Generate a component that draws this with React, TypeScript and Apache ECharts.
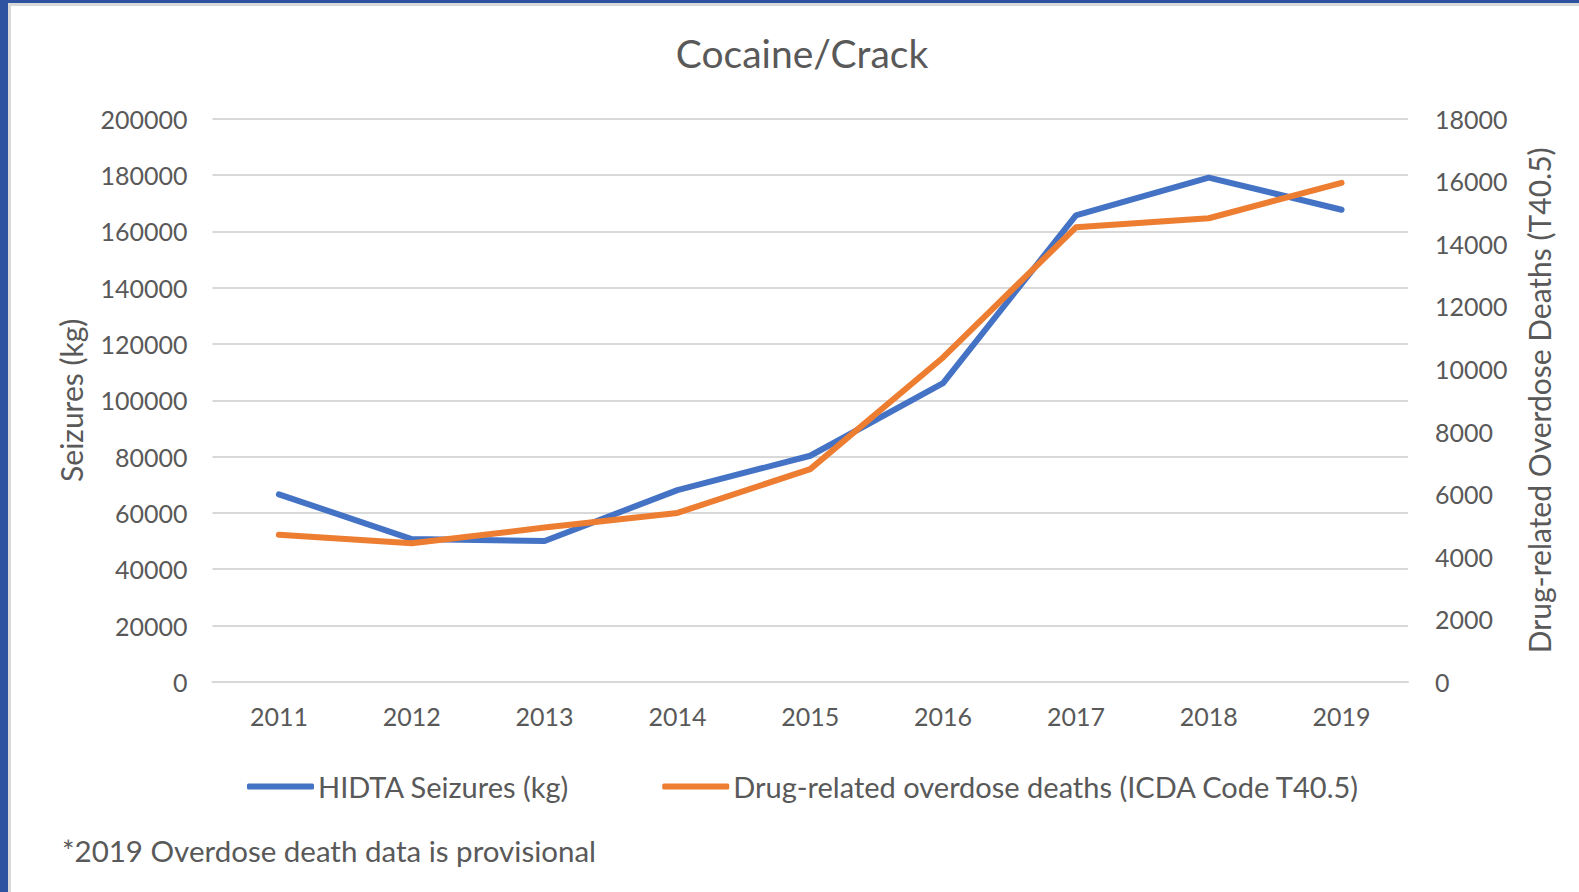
import React, { useEffect, useRef } from "react";
import * as echarts from "echarts";

const years = ["2011", "2012", "2013", "2014", "2015", "2016", "2017", "2018", "2019"];
const seizuresKg = [66600, 50700, 50000, 68100, 80300, 106100, 165700, 179100, 167700];
const overdoseDeaths = [4700, 4430, 4930, 5400, 6800, 10370, 14530, 14820, 15950];

const seriesNames = ["HIDTA Seizures (kg)", "Drug-related overdose deaths (ICDA Code T40.5)"];
const titleText = "Cocaine/Crack";
const leftAxisName = "Seizures (kg)";
const rightAxisName = "Drug-related Overdose Deaths (T40.5)";
const footnote = "*2019 Overdose death data is provisional";

const FONT = "Lato, 'Open Sans', sans-serif";
const GRAY = "#595959";
const GRID = "#d9d9d9";

export default function App() {
  const ref = useRef<HTMLDivElement>(null);
  useEffect(() => {
    document.body.style.margin = "0";
    const chart = echarts.init(ref.current!, undefined, { renderer: "svg" });
    const plain = (v: number) => String(v);
    chart.setOption({
      animation: false,
      backgroundColor: "#ffffff",
      textStyle: { fontFamily: FONT },
      title: {
        text: titleText,
        left: 802,
        top: 33,
        padding: 0,
        textAlign: "center",
        textStyle: { fontFamily: FONT, fontSize: 39, fontWeight: "normal", color: GRAY },
      },
      grid: { left: 212.5, right: 171, top: 118.8, bottom: 210.2, containLabel: false },
      legend: {
        left: 247,
        top: 772,
        itemGap: 93,
        itemWidth: 67,
        itemHeight: 6,
        icon: "roundRect",
        padding: 0,
        textStyle: { fontFamily: FONT, fontSize: 29, color: GRAY, padding: [0, 0, 0, -1] },
        data: seriesNames,
      },
      xAxis: {
        type: "category",
        data: years,
        boundaryGap: true,
        axisLine: { show: true, lineStyle: { color: GRID, width: 2 } },
        axisTick: { show: false },
        axisLabel: { fontFamily: FONT, fontSize: 25, color: GRAY, margin: 22 },
      },
      yAxis: [
        {
          type: "value",
          min: 0,
          max: 200000,
          interval: 20000,
          name: leftAxisName,
          nameLocation: "middle",
          nameGap: 127,
          nameTextStyle: { fontFamily: FONT, fontSize: 30, color: GRAY },
          axisLine: { show: false },
          axisTick: { show: false },
          axisLabel: { fontFamily: FONT, fontSize: 25, color: GRAY, margin: 25, formatter: plain },
          splitLine: { show: true, lineStyle: { color: GRID, width: 2 } },
        },
        {
          type: "value",
          min: 0,
          max: 18000,
          interval: 2000,
          position: "right",
          name: rightAxisName,
          nameLocation: "middle",
          nameGap: 116,
          nameTextStyle: { fontFamily: FONT, fontSize: 30, color: GRAY },
          axisLine: { show: false },
          axisTick: { show: false },
          axisLabel: { fontFamily: FONT, fontSize: 25, color: GRAY, margin: 27, formatter: plain },
          splitLine: { show: false },
        },
      ],
      series: [
        {
          name: seriesNames[0],
          type: "line",
          data: seizuresKg,
          yAxisIndex: 0,
          symbol: "none",
          color: "#4472C4",
          lineStyle: { width: 6, color: "#4472C4", cap: "round", join: "round" },
        },
        {
          name: seriesNames[1],
          type: "line",
          data: overdoseDeaths,
          yAxisIndex: 1,
          symbol: "none",
          color: "#ED7D31",
          lineStyle: { width: 6, color: "#ED7D31", cap: "round", join: "round" },
        },
      ],
      graphic: [
        { type: "rect", left: 0, top: 0, shape: { width: 1579, height: 3 }, style: { fill: "#2E54A1" }, z: 100 },
        { type: "rect", left: 0, top: 3, shape: { width: 1579, height: 3 }, style: { fill: GRID }, z: 99 },
        { type: "rect", left: 0, top: 0, shape: { width: 8, height: 892 }, style: { fill: "#2E54A1" }, z: 100 },
        { type: "rect", left: 8, top: 3, shape: { width: 3, height: 889 }, style: { fill: GRID }, z: 99 },
        {
          type: "text",
          left: 62,
          top: 835,
          style: { text: footnote, font: `29.5px ${FONT}`, fill: GRAY },
        },
      ],
    });
    return () => chart.dispose();
  }, []);
  return <div ref={ref} style={{ width: 1579, height: 892 }} />;
}
